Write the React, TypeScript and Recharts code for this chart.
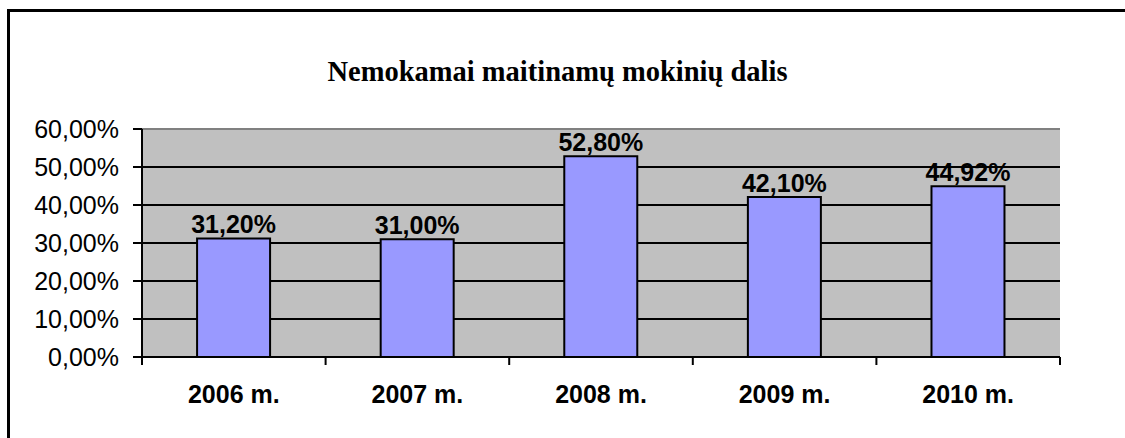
import React from 'react';
import {
  BarChart,
  Bar,
  XAxis,
  YAxis,
  CartesianGrid,
  ReferenceLine,
  LabelList,
} from 'recharts';

const years = ['2006 m.', '2007 m.', '2008 m.', '2009 m.', '2010 m.'];
const shares = [31.2, 31.0, 52.8, 42.1, 44.92];
const yTicks = [0, 10, 20, 30, 40, 50, 60];

const CHART_W = 1125;
const CHART_H = 438;
const MARGIN = { top: 129, right: 65, left: 0, bottom: 0 };
const Y_AXIS_W = 142;
const X_AXIS_H = 81;
const PLOT_W = CHART_W - Y_AXIS_W - MARGIN.right;

const SANS = '"Liberation Sans", Arial, sans-serif';
const SERIF = '"Liberation Serif", "Times New Roman", serif';

const data = years.map((year, i) => ({ year, value: shares[i] }));

const pct = (v: number) => `${v.toFixed(2).replace('.', ',')}%`;

function XTick(props: any) {
  const { x, y, payload, index } = props;
  const bw = PLOT_W / years.length;
  const left = x - bw / 2;
  const right = x + bw / 2;
  return (
    <g>
      <line x1={left} y1={y} x2={left} y2={y + 8} stroke="#000" strokeWidth={2} />
      {index === years.length - 1 && (
        <line x1={right} y1={y} x2={right} y2={y + 8} stroke="#000" strokeWidth={2} />
      )}
      <text
        x={x}
        y={y + 46}
        textAnchor="middle"
        fontFamily={SANS}
        fontWeight="bold"
        fontSize={25}
        fill="#000"
      >
        {payload.value}
      </text>
    </g>
  );
}

export default function App() {
  return (
    <div
      style={{
        position: 'absolute',
        left: 0,
        top: 0,
        width: CHART_W,
        height: CHART_H,
        overflow: 'hidden',
        background: '#fff',
      }}
    >
      {/* frame: only left and top edges are in view */}
      <div style={{ position: 'absolute', left: 7, top: 9, width: CHART_W, height: 3, background: '#000' }} />
      <div style={{ position: 'absolute', left: 7, top: 9, width: 3, height: CHART_H, background: '#000' }} />
      <div
        style={{
          position: 'absolute',
          left: 0,
          top: 58,
          width: 1115,
          textAlign: 'center',
          fontFamily: SERIF,
          fontWeight: 'bold',
          fontSize: 28.5,
          lineHeight: '28px',
          color: '#000',
        }}
      >
        Nemokamai maitinamų mokinių dalis
      </div>
      <div style={{ position: 'absolute', left: 0, top: 0 }}>
        <BarChart
          width={CHART_W}
          height={CHART_H}
          data={data}
          margin={MARGIN}
          barCategoryGap="30%"
        >
          <CartesianGrid
            vertical={false}
            fill="#C0C0C0"
            fillOpacity={1}
            stroke="#000"
            strokeWidth={2}
            yAxisId="left"
          />
          <XAxis
            dataKey="year"
            height={X_AXIS_H}
            axisLine={{ stroke: '#000', strokeWidth: 2 }}
            tickLine={false}
            tickSize={0}
            tickMargin={0}
            interval={0}
            tick={<XTick />}
          />
          <YAxis
            yAxisId="left"
            width={Y_AXIS_W}
            domain={[0, 60]}
            ticks={yTicks}
            interval={0}
            tickFormatter={pct}
            axisLine={{ stroke: '#000', strokeWidth: 2 }}
            tickLine={{ stroke: '#000', strokeWidth: 2 }}
            tickSize={9}
            tickMargin={14}
            tick={{ fontFamily: SANS, fontSize: 25, fill: '#000' }}
          />
          <YAxis
            yAxisId="right"
            orientation="right"
            width={0}
            domain={[0, 60]}
            tick={false}
            tickLine={false}
            axisLine={{ stroke: '#808080', strokeWidth: 2 }}
          />
          <ReferenceLine yAxisId="left" y={60} stroke="#808080" strokeWidth={2} />
          <Bar
            yAxisId="left"
            dataKey="value"
            fill="#9999FF"
            stroke="#000"
            strokeWidth={2}
            isAnimationActive={false}
          >
            <LabelList
              dataKey="value"
              position="top"
              offset={5}
              formatter={(v: any) => pct(Number(v))}
              style={{ fontFamily: SANS, fontWeight: 'bold', fontSize: 25, fill: '#000' }}
            />
          </Bar>
        </BarChart>
      </div>
    </div>
  );
}
